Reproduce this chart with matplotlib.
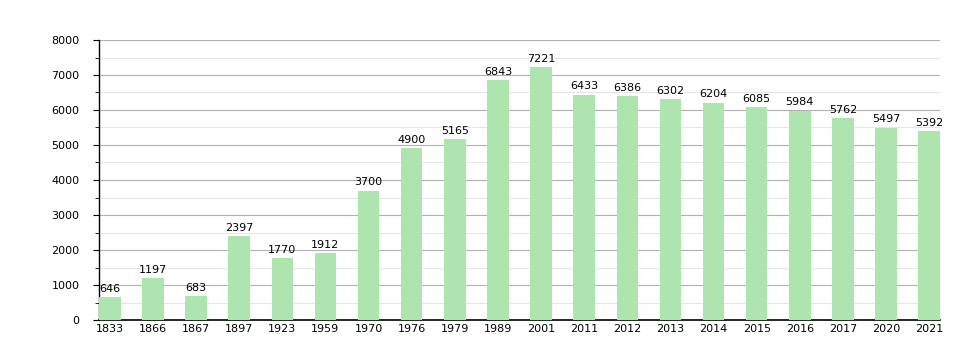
import numpy as np
import matplotlib.pyplot as plt
from matplotlib.ticker import MultipleLocator

# Données
years = ['1833', '1866', '1867', '1897', '1923', '1959', '1970', '1976', '1979', '1989',
         '2001', '2011', '2012', '2013', '2014', '2015', '2016', '2017', '2020', '2021']
population = [646, 1197, 683, 2397, 1770, 1912, 3700, 4900, 5165, 6843,
              7221, 6433, 6386, 6302, 6204, 6085, 5984, 5762, 5497, 5392]

fig = plt.figure(figsize=(9.79, 3.6), dpi=100)
ax = fig.add_axes([99/979, 40/360, 841/979, 280/360])

x = np.arange(len(years))
ax.bar(x, population, width=0.5, color='#aee5ae', zorder=3)
for xi, v in zip(x, population):
    ax.text(xi, v + 100, str(v), ha='center', va='bottom', fontsize=8, color='black', zorder=4)

ax.set_xlim(-0.25, len(years) - 0.75)
ax.set_ylim(0, 8000)
ax.set_xticks(x)
ax.set_xticklabels(years, fontsize=8)
ax.yaxis.set_major_locator(MultipleLocator(1000))
ax.yaxis.set_minor_locator(MultipleLocator(500))
ax.tick_params(axis='y', labelsize=8, length=4, which='major', pad=10)
ax.tick_params(axis='y', which='minor', length=3)
ax.tick_params(axis='x', length=0, pad=3)
ax.grid(axis='y', which='major', color='#b0b0b0', linewidth=0.8, zorder=0)
ax.grid(axis='y', which='minor', color='#e6e6e6', linewidth=0.8, zorder=0)

for s in ['top', 'right']:
    ax.spines[s].set_visible(False)
ax.spines['left'].set_linewidth(1.0)
ax.spines['bottom'].set_linewidth(1.2)

plt.savefig('out.png', dpi=100)
